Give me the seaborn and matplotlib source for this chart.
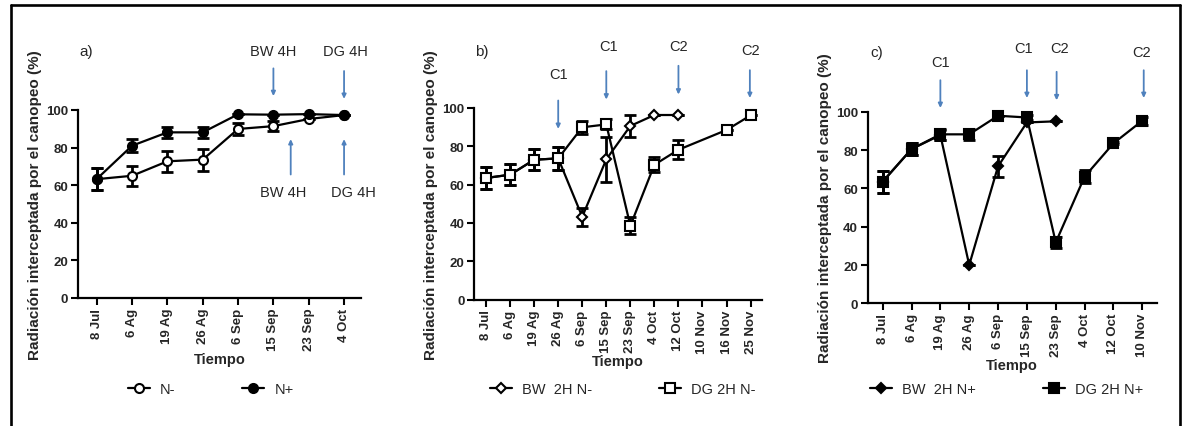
import numpy as np
import pandas as pd
import matplotlib
matplotlib.use("Agg")
import matplotlib.pyplot as plt
import seaborn as sns
from matplotlib.lines import Line2D

sns.set_style("ticks")
plt.rcParams["font.family"] = ["Liberation Sans", "DejaVu Sans"]

nan = np.nan

# -------------------------------
# datos
# -------------------------------
fechas_a = ["8 Jul", "6 Ag", "19 Ag", "26 Ag", "6 Sep", "15 Sep", "23 Sep", "4 Oct"]
n_menos = [63.2, 65.0, 72.7, 73.6, 89.9, 91.4, 95.2, 97.3]
n_menos_err = [5.9, 5.2, 5.5, 5.9, 3.2, 2.5, 0.0, 0.0]
n_mas = [63.3, 81.0, 88.1, 88.1, 97.7, 97.5, 97.8, 97.3]
n_mas_err = [5.9, 3.5, 2.8, 2.8, 0.0, 0.0, 0.0, 0.0]

fechas_b = ["8 Jul", "6 Ag", "19 Ag", "26 Ag", "6 Sep", "15 Sep", "23 Sep",
            "4 Oct", "12 Oct", "10 Nov", "16 Nov", "25 Nov"]
bw_2h_nm = [63.4, 65.1, 72.9, 73.6, 43.2, 73.1, 90.5, 96.2, 96.2, nan, nan, nan]
bw_2h_nm_err = [5.8, 5.5, 5.6, 6.0, 4.6, 11.8, 5.5, 0.0, 0.0, nan, nan, nan]
dg_2h_nm = [63.4, 65.1, 72.9, 73.6, 89.8, 91.3, 38.5, 70.3, 78.1, nan, 88.4, 96.0]
dg_2h_nm_err = [5.8, 5.5, 5.6, 6.0, 3.3, 2.6, 4.5, 4.0, 4.9, nan, 0.0, 0.0]

fechas_c = ["8 Jul", "6 Ag", "19 Ag", "26 Ag", "6 Sep", "15 Sep", "23 Sep",
            "4 Oct", "12 Oct", "10 Nov"]
bw_2h_np = [63.5, 80.5, 87.8, 20.0, 71.5, 94.4, 95.0, nan, nan, nan]
bw_2h_np_err = [5.8, 3.3, 2.8, 0.0, 5.5, 0.0, 0.0, nan, nan, nan]
dg_2h_np = [63.5, 80.5, 88.2, 88.2, 97.9, 97.0, 31.8, 66.1, 83.5, 95.3]
dg_2h_np_err = [5.8, 3.3, 2.8, 2.8, 0.0, 1.2, 3.0, 3.5, 0.5, 2.0]

AZUL = "#4F81BD"
YLAB = "Radiación interceptada por el canopeo (%)"


def serie(ax, fechas, vals, errs, marker, fill, label, ms):
    df = pd.DataFrame({"x": np.arange(len(fechas)), "y": vals, "e": errs}).dropna()
    sns.lineplot(data=df, x="x", y="y", ax=ax, color="black", lw=1.6,
                 marker=marker, markersize=ms, markerfacecolor=fill,
                 markeredgecolor="black", markeredgewidth=1.5,
                 label=label, clip_on=False, zorder=3, legend=False)
    ax.errorbar(df["x"], df["y"], yerr=df["e"], fmt="none", ecolor="black",
                elinewidth=2.0, capsize=4, capthick=2.0, clip_on=False, zorder=2)


def ejes(ax, fechas, xlim):
    ax.set_xlim(*xlim)
    ax.set_ylim(0, 100)
    ax.set_yticks([0, 20, 40, 60, 80, 100])
    ax.set_xticks(np.arange(len(fechas)))
    ax.set_xticklabels(fechas, rotation=90, fontweight="bold", fontsize=9.5)
    for t in ax.get_yticklabels():
        t.set_fontweight("bold")
        t.set_fontsize(9.5)
    ax.tick_params(width=1.5, length=5, pad=2, color="black")
    for s in ["left", "bottom"]:
        ax.spines[s].set_linewidth(1.6)
        ax.spines[s].set_color("black")
    sns.despine(ax=ax)
    ax.set_xlabel("Tiempo", fontweight="bold", fontsize=10.5, labelpad=1)
    ax.set_ylabel(YLAB, fontweight="bold", fontsize=11, labelpad=3)


def flecha(ax, x, y0, y1, texto=None, tx=None, ty=None):
    ax.annotate("", xy=(x, y1), xytext=(x, y0), annotation_clip=False,
                arrowprops=dict(arrowstyle="-|>,head_length=0.25,head_width=0.12",
                                color=AZUL, lw=1.3))
    if texto:
        ax.text(tx, ty, texto, ha="center", va="center", fontsize=10.5, clip_on=False)


def leyenda(fig, ax, x_fig):
    h, l = ax.get_legend_handles_labels()
    fig.legend(h, l, loc="center left", bbox_to_anchor=(x_fig, 0.087), ncol=2,
               frameon=False, fontsize=10.5, handlelength=1.5, handletextpad=0.7,
               columnspacing=4.6, borderpad=0, borderaxespad=0)


fig = plt.figure(figsize=(11.86, 4.27), dpi=100)

# -------------------------------
# a)
# -------------------------------
ax1 = fig.add_axes([0.0658, 0.2998, 0.2386, 0.4403])
serie(ax1, fechas_a, n_menos, n_menos_err, "o", "white", "N-", 6.5)
serie(ax1, fechas_a, n_mas, n_mas_err, "o", "black", "N+", 6.5)
ejes(ax1, fechas_a, (-0.53, 7.48))
flecha(ax1, 5, 123.6, 105.9, "BW 4H", 5.0, 131.6)
flecha(ax1, 7, 122.2, 104.4, "DG 4H", 7.05, 131.6)
flecha(ax1, 5.49, 64.2, 86.0, "BW 4H", 5.29, 56.2)
flecha(ax1, 7, 64.2, 86.0, "DG 4H", 7.27, 56.2)
ax1.text(-0.30, 131.5, "a)", fontsize=11, va="center", ha="center")
leyenda(fig, ax1, 0.1077)

# -------------------------------
# b)
# -------------------------------
ax2 = fig.add_axes([0.3999, 0.2958, 0.2423, 0.4496])
serie(ax2, fechas_b, bw_2h_nm, bw_2h_nm_err, "D", "white", "BW  2H N-", 5.5)
serie(ax2, fechas_b, dg_2h_nm, dg_2h_nm_err, "s", "white", "DG 2H N-", 6.5)
ejes(ax2, fechas_b, (-0.49, 11.46))
flecha(ax2, 3, 105.2, 87.5, "C1", 3.0, 117.5)
flecha(ax2, 5, 120.5, 102.8, "C1", 5.1, 132.3)
flecha(ax2, 8, 123.3, 105.4, "C2", 8.0, 132.3)
flecha(ax2, 10.97, 121.0, 103.6, "C2", 11.0, 130.2)
ax2.text(-0.17, 129.7, "b)", fontsize=11, va="center", ha="center")
leyenda(fig, ax2, 0.4132)

# -------------------------------
# c)
# -------------------------------
ax3 = fig.add_axes([0.7316, 0.2873, 0.2437, 0.4487])
serie(ax3, fechas_c, bw_2h_np, bw_2h_np_err, "D", "black", "BW  2H N+", 5.5)
serie(ax3, fechas_c, dg_2h_np, dg_2h_np_err, "s", "black", "DG 2H N+", 6.5)
ejes(ax3, fechas_c, (-0.52, 9.5))
flecha(ax3, 2, 117.9, 100.5, "C1", 2.0, 126.1)
flecha(ax3, 5, 123.1, 105.7, "C1", 4.87, 133.2)
flecha(ax3, 6.03, 122.3, 104.5, "C2", 6.14, 133.2)
flecha(ax3, 9.05, 123.1, 105.7, "C2", 8.97, 131.0)
ax3.text(-0.21, 131.0, "c)", fontsize=11, va="center", ha="center")
leyenda(fig, ax3, 0.7336)

# marco exterior (sin linea inferior)
for xs, ys in [([0.0093, 0.0093], [-0.01, 0.9865]),
               ([0.0093, 0.9949], [0.9865, 0.9865]),
               ([0.9949, 0.9949], [0.9865, -0.01])]:
    fig.add_artist(Line2D(xs, ys, color="black", lw=1.9))

fig.savefig("out.png", dpi=100)
